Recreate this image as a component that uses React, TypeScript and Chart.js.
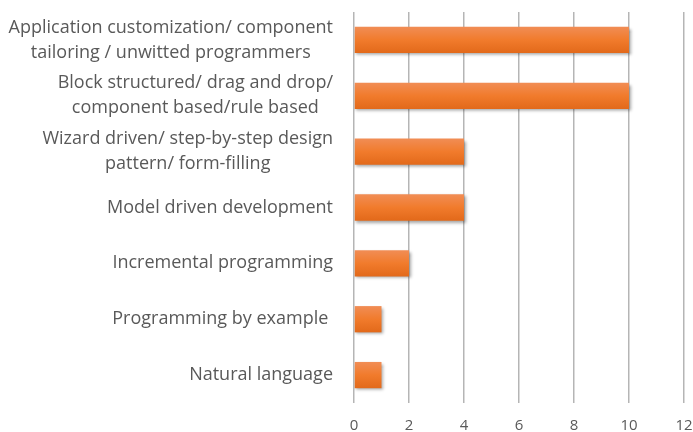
import React, { useEffect, useRef } from "react";
import { Chart, registerables } from "chart.js";

Chart.register(...registerables);

const categories: string[][] = [
  ["Application customization/ component", "tailoring / unwitted programmers"],
  ["Block structured/ drag and drop/", "component based/rule based"],
  ["Wizard driven/ step-by-step design", "pattern/ form-filling"],
  ["Model driven development"],
  ["Incremental programming"],
  ["Programming by example "],
  ["Natural language"],
];
const values: number[] = [10, 10, 4, 4, 2, 1, 1];
const xTicks = { min: 0, max: 12, step: 2 };

const FONT = "'Open Sans', 'Noto Sans', sans-serif";
const TEXT_COLOR = "#595959";
const BAR_PCT = 0.47;

const labelPlugin = {
  id: "blockLabels",
  afterDraw(chart: any) {
    const ctx = chart.ctx;
    const yScale = chart.scales.y;
    const rightEdge = chart.chartArea.left - 21;
    ctx.save();
    ctx.font = `18px ${FONT}`;
    ctx.fillStyle = TEXT_COLOR;
    ctx.textBaseline = "middle";
    ctx.textAlign = "center";
    const lh = 25;
    categories.forEach((lines, i) => {
      const y = yScale.getPixelForTick(i);
      const maxW = Math.max(...lines.map((l) => ctx.measureText(l).width));
      const cx = rightEdge - maxW / 2;
      lines.forEach((l, j) => {
        const off = (j - (lines.length - 1) / 2) * lh;
        ctx.fillText(l, cx, y + off);
      });
    });
    ctx.restore();
  },
};

const shadowPlugin = {
  id: "barShadow",
  beforeDatasetsDraw(chart: any) {
    const ctx = chart.ctx;
    ctx.save();
    ctx.shadowColor = "rgba(0,0,0,0.35)";
    ctx.shadowBlur = 3;
    ctx.shadowOffsetX = 1.5;
    ctx.shadowOffsetY = 2;
  },
  afterDatasetsDraw(chart: any) {
    chart.ctx.restore();
  },
};

function barGradient(c: any) {
  const chart = c.chart;
  const yScale = chart.scales?.y;
  if (!yScale || !chart.chartArea) return "#F07A2A";
  const yc = yScale.getPixelForTick(c.dataIndex);
  const h = (yScale.height / categories.length) * BAR_PCT;
  const g = chart.ctx.createLinearGradient(0, yc - h / 2, 0, yc + h / 2);
  g.addColorStop(0, "#F18D55");
  g.addColorStop(0.5, "#F17B2C");
  g.addColorStop(1, "#E2691A");
  return g;
}

export default function App() {
  const ref = useRef<HTMLCanvasElement | null>(null);
  useEffect(() => {
    if (!ref.current) return;
    const chart = new Chart(ref.current, {
      type: "bar",
      data: {
        labels: categories.map((c) => c.join(" ")),
        datasets: [
          {
            data: values,
            backgroundColor: barGradient,
            borderWidth: 0,
            categoryPercentage: 1,
            barPercentage: BAR_PCT,
          },
        ],
      },
      options: {
        indexAxis: "y",
        animation: false,
        responsive: false,
        maintainAspectRatio: false,
        devicePixelRatio: 1,
        layout: { autoPadding: false, padding: { left: 0, right: 9, top: 12, bottom: 0 } },
        plugins: { legend: { display: false }, tooltip: { enabled: false } },
        scales: {
          x: {
            min: xTicks.min,
            max: xTicks.max,
            ticks: {
              stepSize: xTicks.step,
              color: TEXT_COLOR,
              font: { family: FONT, size: 15 },
              padding: 14,
            },
            grid: { color: "#b5b5b5", lineWidth: 1.5, drawTicks: false },
            border: { display: false },
            afterFit: (scale: any) => {
              scale.height = 29;
              scale.paddingLeft = 0;
              scale.paddingRight = 0;
            },
          },
          y: {
            ticks: { display: false },
            grid: { display: false },
            border: { display: false },
            afterFit: (scale: any) => {
              scale.width = 354;
            },
          },
        },
      },
      plugins: [shadowPlugin, labelPlugin],
    });
    return () => chart.destroy();
  }, []);
  return (
    <div style={{ position: "fixed", left: 0, top: 0, width: 693, height: 432, background: "#fff" }}>
      <canvas ref={ref} width={693} height={432} style={{ display: "block", width: 693, height: 432 }} />
    </div>
  );
}
